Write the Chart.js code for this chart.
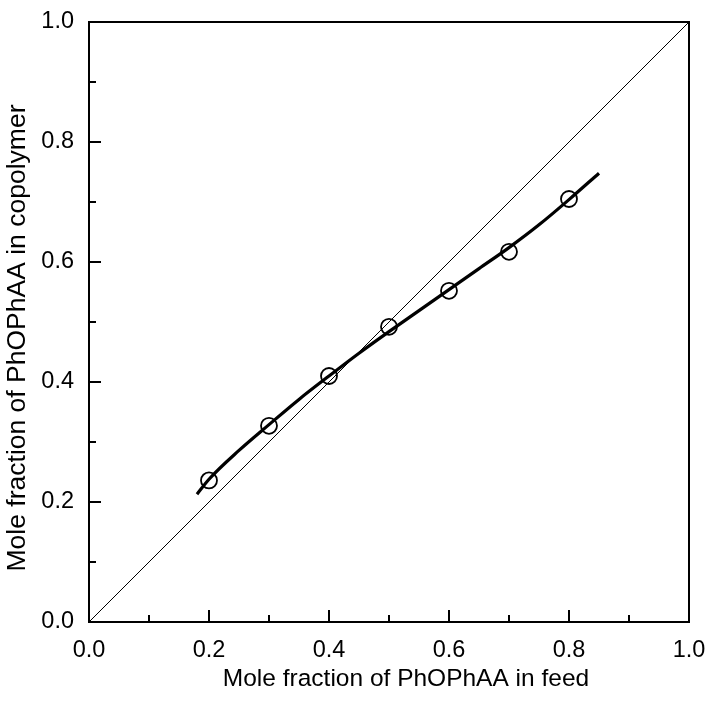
<!DOCTYPE html>
<html>
<head>
<meta charset="utf-8">
<script src="https://cdn.jsdelivr.net/npm/chart.js@4/dist/chart.umd.min.js"></script>
<style>
  html, body { margin: 0; padding: 0; background: #fff; }
  #wrap { width: 708px; height: 702px; }
</style>
</head>
<body>
<div id="wrap"><canvas id="chart" width="708" height="702"></canvas></div>
<script>
// measured points
const feedFraction = [0.2, 0.3, 0.4, 0.5, 0.6, 0.7, 0.8];
const copolymerFraction = [0.236, 0.327, 0.410, 0.492, 0.552, 0.617, 0.705];

// fitted curve
const fitFeed = [0.18, 0.2, 0.25, 0.3, 0.35, 0.4, 0.45, 0.5, 0.55, 0.6, 0.65, 0.7, 0.75, 0.8, 0.85];
const fitCopolymer = [0.213, 0.238, 0.286, 0.329, 0.371, 0.410, 0.448, 0.484, 0.519, 0.554, 0.589, 0.624, 0.662, 0.704, 0.748];

// x = y reference line
const diagFeed = [0, 1];
const diagCopolymer = [0, 1];

const majorTicks = [0, 0.2, 0.4, 0.6, 0.8, 1.0];
const minorTicks = [0.1, 0.3, 0.5, 0.7, 0.9];

const xTitle = 'Mole fraction of PhOPhAA in feed';
const yTitle = 'Mole fraction of PhOPhAA in copolymer';

const family = '"Liberation Sans", Arial, sans-serif';
const tickFont = { family: family, size: 23.5 };

const toXY = (xs, ys) => xs.map((x, i) => ({ x: x, y: ys[i] }));

// labels may overhang the plot box, don't let them shrink it
const noOverhang = s => { s.paddingLeft = s.paddingRight = s.paddingTop = s.paddingBottom = 0; };

// inward ticks + frame
const frameTicks = {
  id: 'frameTicks',
  afterDraw(chart) {
    const { ctx, chartArea: a, scales } = chart;
    ctx.save();
    ctx.strokeStyle = '#000';
    ctx.lineWidth = 2;
    ctx.strokeRect(a.left, a.top, a.right - a.left, a.bottom - a.top);
    const tick = (v, len) => {
      const px = scales.x.getPixelForValue(v);
      ctx.beginPath(); ctx.moveTo(px, a.bottom); ctx.lineTo(px, a.bottom - len); ctx.stroke();
      const py = scales.y.getPixelForValue(v);
      ctx.beginPath(); ctx.moveTo(a.left, py); ctx.lineTo(a.left + len, py); ctx.stroke();
    };
    majorTicks.forEach(v => tick(v, 12));
    minorTicks.forEach(v => tick(v, 7));
    ctx.restore();
  }
};

// axis titles sit a bit off-centre in the original
const axisTitles = {
  id: 'axisTitles',
  afterDraw(chart) {
    const { ctx, chartArea: a } = chart;
    ctx.save();
    ctx.fillStyle = '#000';
    ctx.textAlign = 'center';
    ctx.textBaseline = 'alphabetic';
    ctx.font = '24.5px ' + family;
    ctx.fillText(xTitle, (a.left + a.right) / 2 + 17, a.bottom + 64);
    ctx.translate(25, (a.top + a.bottom) / 2 + 16);
    ctx.rotate(-Math.PI / 2);
    ctx.font = '26.5px ' + family;
    ctx.fillText(yTitle, 0, 0);
    ctx.restore();
  }
};

new Chart(document.getElementById('chart'), {
  type: 'scatter',
  data: {
    datasets: [
      {
        data: toXY(diagFeed, diagCopolymer),
        showLine: true,
        borderColor: '#000',
        borderWidth: 1,
        pointRadius: 0
      },
      {
        data: toXY(fitFeed, fitCopolymer),
        showLine: true,
        borderColor: '#000',
        borderWidth: 3.2,
        cubicInterpolationMode: 'monotone',
        pointRadius: 0
      },
      {
        data: toXY(feedFraction, copolymerFraction),
        showLine: false,
        pointRadius: 8,
        pointBorderWidth: 1.8,
        pointBorderColor: '#000',
        pointBackgroundColor: 'rgba(0,0,0,0)'
      }
    ]
  },
  options: {
    responsive: false,
    devicePixelRatio: 1,
    animation: false,
    layout: { padding: { top: 22, right: 19, left: 0, bottom: 0 } },
    plugins: { legend: { display: false }, tooltip: { enabled: false } },
    scales: {
      x: {
        type: 'linear', min: 0, max: 1,
        afterFit: s => { s.height = 80; noOverhang(s); },
        grid: { display: false, drawTicks: false },
        border: { display: false },
        ticks: { stepSize: 0.2, padding: 14, color: '#000', font: tickFont, maxRotation: 0,
                 callback: v => v.toFixed(1) }
      },
      y: {
        type: 'linear', min: 0, max: 1,
        afterFit: s => { s.width = 89; noOverhang(s); },
        grid: { display: false, drawTicks: false },
        border: { display: false },
        ticks: { stepSize: 0.2, padding: 15, color: '#000', font: tickFont,
                 callback: v => v.toFixed(1) }
      }
    }
  },
  plugins: [frameTicks, axisTitles]
});
</script>
</body>
</html>
